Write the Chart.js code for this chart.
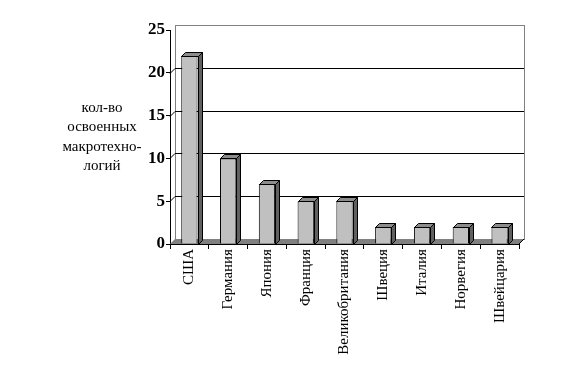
<!DOCTYPE html>
<html>
<head>
    <meta charset="UTF-8">
    <title>Макротехнологии</title>
    <script src="https://cdn.jsdelivr.net/npm/chart.js@4"></script>
    <style type="text/css">
        body { margin: 0; background: #fff; }
    </style>
</head>
<body>
<canvas id="techChart" width="586" height="372"></canvas>
<script>
    const countries = ['США', 'Германия', 'Япония', 'Франция', 'Великобритания', 'Швеция', 'Италия', 'Норвегия', 'Швейцария'];
    const techCount = [22, 10, 7, 5, 5, 2, 2, 2, 2];
    const yTitleLines = ['кол-во', 'освоенных', 'макротехно-', 'логий'];

    const SERIF = '"Liberation Serif", "Times New Roman", serif';
    const WALL = 5;   // depth of the back wall
    const DEPTH = 4;  // depth of each column

    // back wall, floor and wall gridlines
    const wallPlugin = {
        id: 'wall',
        beforeDatasetsDraw(chart) {
            const ctx = chart.ctx;
            const a = chart.chartArea;
            const y = chart.scales.y;
            ctx.save();
            ctx.lineWidth = 1;
            // back wall
            ctx.strokeStyle = '#808080';
            ctx.strokeRect(a.left + WALL + 0.5, a.top - WALL + 0.5, a.right - a.left, a.bottom - a.top);
            // gridlines on the back and left walls
            ctx.strokeStyle = '#000';
            y.ticks.forEach(t => {
                if (t.value === 0 || t.value === 25) return;
                const py = Math.round(y.getPixelForValue(t.value)) + 0.5;
                ctx.beginPath();
                ctx.moveTo(a.left, py);
                ctx.lineTo(a.left + WALL, py - WALL);
                ctx.lineTo(a.right + WALL, py - WALL);
                ctx.stroke();
            });
            // floor
            ctx.fillStyle = '#808080';
            ctx.beginPath();
            ctx.moveTo(a.left, a.bottom);
            ctx.lineTo(a.left + WALL, a.bottom - WALL);
            ctx.lineTo(a.right + WALL, a.bottom - WALL);
            ctx.lineTo(a.right, a.bottom);
            ctx.closePath();
            ctx.fill();
            ctx.strokeStyle = '#000';
            ctx.beginPath();
            ctx.moveTo(a.right, a.bottom);
            ctx.lineTo(a.right + WALL, a.bottom - WALL);
            ctx.stroke();
            ctx.restore();
        }
    };

    // top and side faces of the columns, y-axis caption
    const boxPlugin = {
        id: 'box3d',
        afterDatasetsDraw(chart) {
            const ctx = chart.ctx;
            const meta = chart.getDatasetMeta(0);
            ctx.save();
            ctx.lineWidth = 1;
            ctx.strokeStyle = '#000';
            meta.data.forEach(bar => {
                const l = Math.round(bar.x - bar.width / 2) + 0.5;
                const r = Math.round(bar.x + bar.width / 2) + 0.5;
                const t = Math.round(bar.y) + 0.5;
                const b = Math.round(bar.base) + 0.5;
                ctx.fillStyle = '#8c8c8c';
                ctx.beginPath();
                ctx.moveTo(l, t);
                ctx.lineTo(l + DEPTH, t - DEPTH);
                ctx.lineTo(r + DEPTH, t - DEPTH);
                ctx.lineTo(r, t);
                ctx.closePath();
                ctx.fill();
                ctx.stroke();
                ctx.fillStyle = '#606060';
                ctx.beginPath();
                ctx.moveTo(r, t);
                ctx.lineTo(r + DEPTH, t - DEPTH);
                ctx.lineTo(r + DEPTH, b - DEPTH);
                ctx.lineTo(r, b);
                ctx.closePath();
                ctx.fill();
                ctx.stroke();
            });
            ctx.fillStyle = '#000';
            ctx.font = '15px ' + SERIF;
            ctx.textAlign = 'center';
            ctx.textBaseline = 'middle';
            yTitleLines.forEach((s, i) => ctx.fillText(s, 102, 108 + i * 19.5));
            ctx.restore();
        }
    };

    new Chart(document.getElementById('techChart'), {
        type: 'bar',
        data: {
            labels: countries,
            datasets: [{
                data: techCount,
                backgroundColor: '#c0c0c0',
                borderColor: '#000',
                borderWidth: 1,
                barPercentage: 0.42,
                categoryPercentage: 1
            }]
        },
        options: {
            responsive: false,
            animation: false,
            layout: { padding: { top: 30, right: 67, bottom: 0, left: 0 } },
            plugins: {
                legend: { display: false },
                tooltip: { enabled: false }
            },
            scales: {
                x: {
                    afterFit(scale) { scale.height = 128; },
                    grid: { drawOnChartArea: false, color: '#000', tickLength: 5, offset: true },
                    border: { color: '#000' },
                    ticks: {
                        minRotation: 90,
                        maxRotation: 90,
                        autoSkip: false,
                        padding: 0,
                        color: '#000',
                        font: { family: SERIF, size: 15 }
                    }
                },
                y: {
                    min: 0,
                    max: 25,
                    afterFit(scale) { scale.width = 170; },
                    grid: { drawOnChartArea: false, color: '#000', tickLength: 4 },
                    border: { color: '#000' },
                    ticks: {
                        stepSize: 5,
                        padding: 1,
                        color: '#000',
                        font: { family: SERIF, size: 17, weight: 'bold' }
                    }
                }
            }
        },
        plugins: [wallPlugin, boxPlugin]
    });
</script>
</body>
</html>
